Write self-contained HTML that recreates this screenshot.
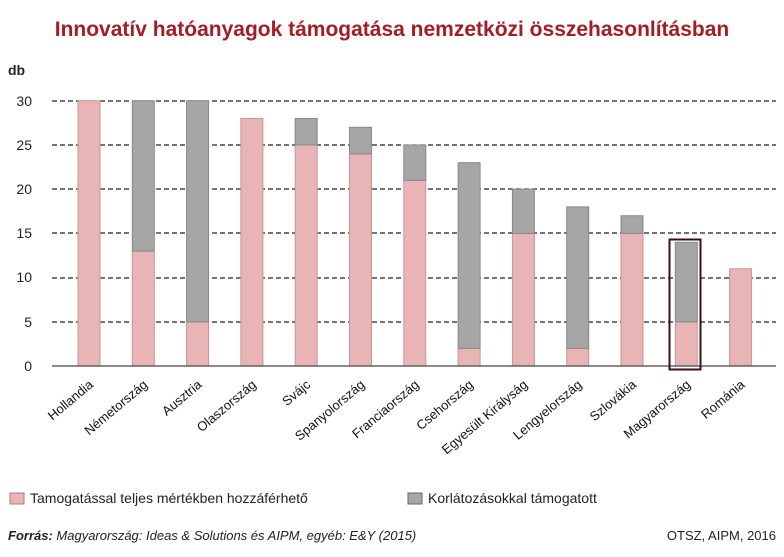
<!DOCTYPE html>
<html><head><meta charset="utf-8"><style>
body{margin:0;background:#fff;}
svg text{font-family:"Liberation Sans","DejaVu Sans",sans-serif;}
</style></head><body>
<svg width="784" height="552" xmlns="http://www.w3.org/2000/svg">
<rect width="784" height="552" fill="#fff"/>
<text x="392" y="36" text-anchor="middle" font-size="21" font-weight="bold" fill="#a51c24">Innovatív hatóanyagok támogatása nemzetközi összehasonlításban</text>
<text x="8" y="75" font-size="14" font-weight="bold" fill="#222">db</text>
<g font-size="14" fill="#222" text-anchor="end">
<text x="32" y="106">30</text><text x="32" y="150">25</text><text x="32" y="194">20</text>
<text x="32" y="238">15</text><text x="32" y="282">10</text><text x="32" y="327">5</text><text x="32" y="371">0</text>
</g>
<g stroke="#222" stroke-width="1.2" stroke-dasharray="5,3">
<line x1="52" x2="776" y1="101" y2="101"/><line x1="52" x2="776" y1="145" y2="145"/>
<line x1="52" x2="776" y1="189" y2="189"/><line x1="52" x2="776" y1="233" y2="233"/>
<line x1="52" x2="776" y1="278" y2="278"/><line x1="52" x2="776" y1="322" y2="322"/>
</g>
<g id="bars" stroke-width="1"></g>
<line x1="52" x2="776" y1="366" y2="366" stroke="#444" stroke-width="1.2"/>
<rect x="669.5" y="239.5" width="31" height="130" fill="none" stroke="#3a1212" stroke-width="2"/>
<g id="labels" font-size="13" fill="#111"></g>
<rect x="10" y="493" width="14" height="11" fill="#e8b4b6" stroke="#b07a7c"/>
<text x="30" y="503" font-size="14" fill="#222">Tamogatással teljes mértékben hozzáférhető</text>
<rect x="408" y="493" width="14" height="11" fill="#a6a6a6" stroke="#666"/>
<text x="428" y="503" font-size="14" fill="#222">Korlátozásokkal támogatott</text>
<text x="8" y="540" font-size="13" font-style="italic" fill="#222"><tspan font-weight="bold">Forrás:</tspan> Magyarország: Ideas &amp; Solutions és AIPM, egyéb: E&amp;Y (2015)</text>
<text x="776" y="540" font-size="13" fill="#222" text-anchor="end">OTSZ, AIPM, 2016</text>
<script>
var d=[["Hollandia",30,0],["Németország",13,17],["Ausztria",5,25],["Olaszország",28,0],["Svájc",25,3],["Spanyolország",24,3],["Franciaország",21,4],["Csehország",2,21],["Egyesült Királyság",15,5],["Lengyelország",2,16],["Szlovákia",15,2],["Magyarország",5,9],["Románia",11,0]];
var ns="http://www.w3.org/2000/svg",b=document.getElementById("bars"),l=document.getElementById("labels");
var y0=366,s=8.84;
d.forEach(function(r,i){var cx=89+i*54.3,x=cx-11;
function R(v0,v,f,st){if(!v)return;var e=document.createElementNS(ns,"rect");e.setAttribute("x",x);e.setAttribute("width",22);e.setAttribute("y",y0-(v0+v)*s);e.setAttribute("height",v*s);e.setAttribute("fill",f);e.setAttribute("stroke",st);b.appendChild(e);}
R(0,r[1],"#e8b4b6","#c99597");R(r[1],r[2],"#a6a6a6","#888");
var t=document.createElementNS(ns,"text");t.textContent=r[0];t.setAttribute("text-anchor","end");t.setAttribute("transform","translate("+(cx+5)+",386) rotate(-40)");l.appendChild(t);});
</script>
</svg>
</body></html>
